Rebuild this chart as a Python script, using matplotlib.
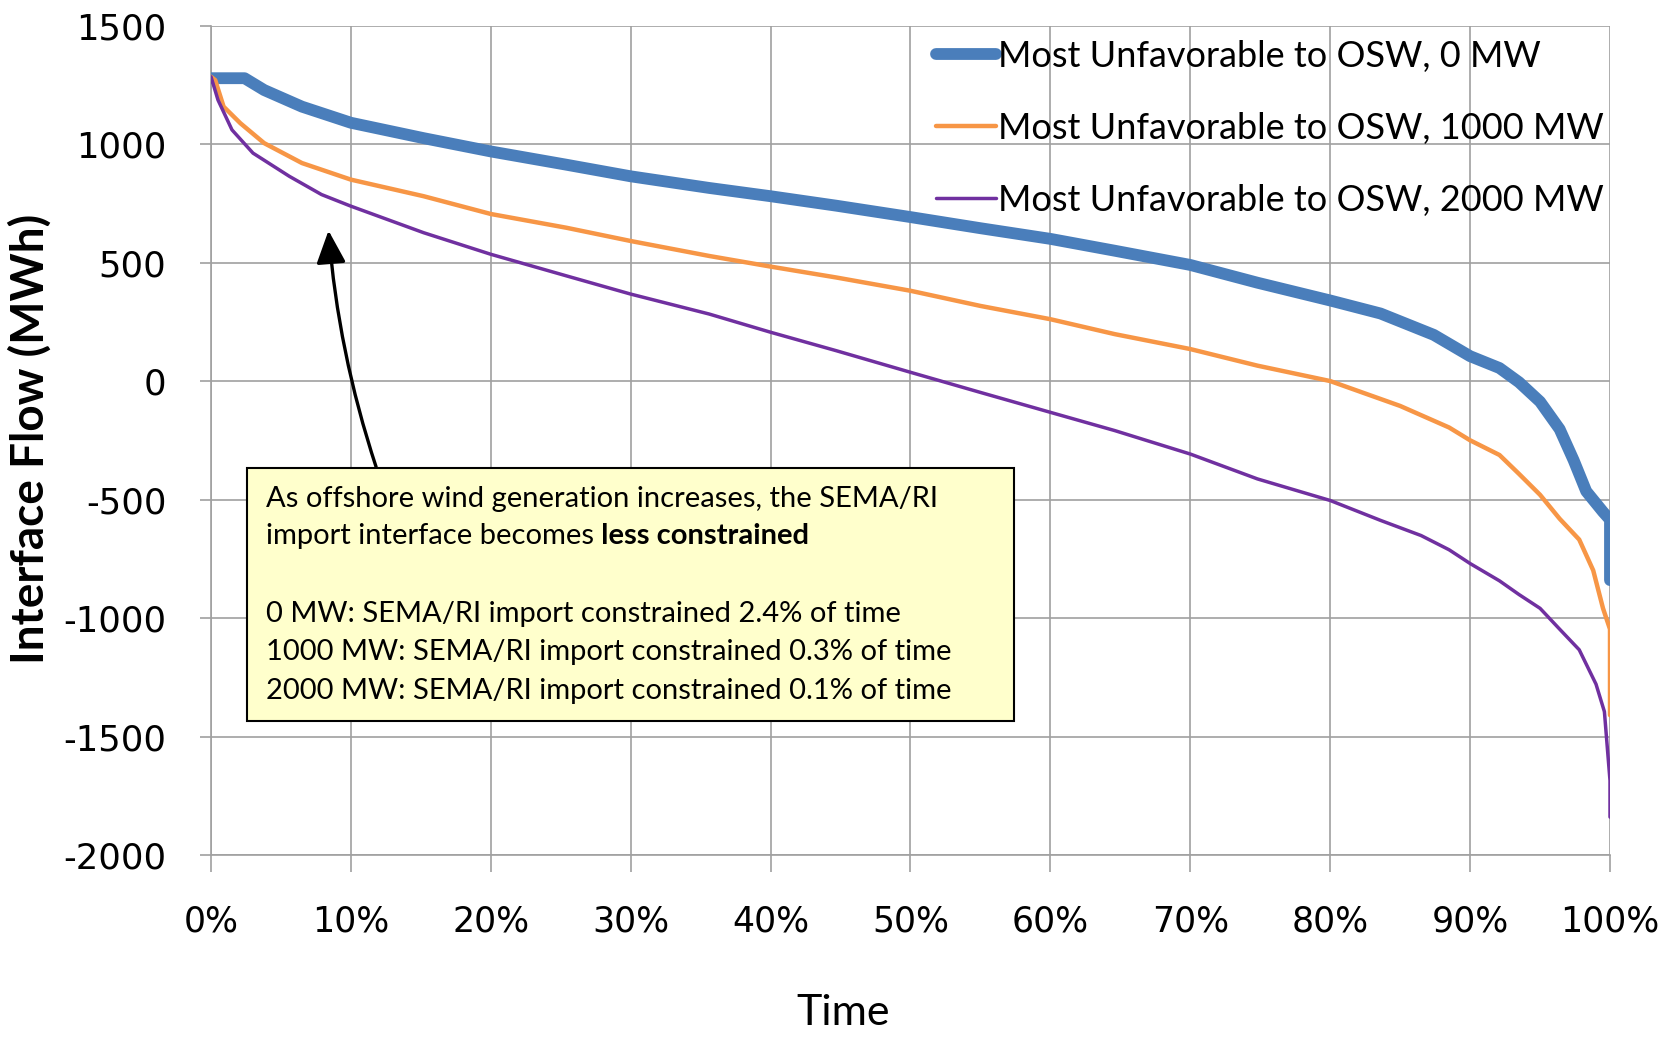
import matplotlib
matplotlib.use("Agg")
from matplotlib import pyplot as plt
from matplotlib.patches import Rectangle
from matplotlib.ticker import FuncFormatter

plt.rcParams["axes.unicode_minus"] = False

# Duration curves of SEMA/RI import interface flow (share of hours, MWh)
x_0mw = [0, 2.4, 3.8, 6.5, 10, 15.2, 20, 25.4, 30, 35.6, 40, 44.7, 50, 55, 60,
         64.6, 70, 74.8, 80, 83.6, 87.4, 90, 92.1, 93.5, 95.0, 96.4, 97.4, 98.3,
         99.5, 100, 100]
y_0mw = [1278, 1278, 1228, 1158, 1090, 1025, 969, 913, 864, 815, 780, 740, 692,
         645, 600, 550, 490, 415, 340, 285, 195, 105, 55, -5, -87, -203, -334,
         -465, -552, -585, -840]

x_1000mw = [0, 0.3, 0.9, 2.1, 3.8, 6.5, 10, 15.2, 20, 25.4, 30, 35.6, 40, 44.7,
            50, 55, 60, 64.6, 70, 74.8, 80, 85, 88.5, 90, 92.1, 93.5, 95, 96.4,
            97.8, 98.8, 99.5, 100, 100]
y_1000mw = [1284, 1270, 1158, 1088, 1004, 920, 850, 780, 705, 647, 591, 528, 483,
            437, 381, 317, 261, 198, 135, 65, 0, -105, -196, -250, -312, -392,
            -480, -581, -669, -799, -959, -1047, -1410]

x_2000mw = [0, 0.5, 1.5, 3, 5.6, 7.9, 10, 15.2, 20, 25.4, 30, 35.6, 40, 44.7, 50,
            55, 60, 64.6, 70, 74.8, 80, 83.6, 86.5, 88.5, 90, 92.1, 93.5, 95,
            96.4, 97.8, 99.0, 99.6, 99.8, 100, 100]
y_2000mw = [1284, 1186, 1060, 962, 864, 787, 738, 626, 535, 444, 367, 283, 206,
            128, 37, -48, -132, -209, -308, -413, -504, -588, -652, -712, -770,
            -843, -901, -959, -1047, -1134, -1279, -1395, -1541, -1686, -1840]

series_labels = ["Most Unfavorable to OSW, 0 MW",
                 "Most Unfavorable to OSW, 1000 MW",
                 "Most Unfavorable to OSW, 2000 MW"]

x_ticks = [0, 10, 20, 30, 40, 50, 60, 70, 80, 90, 100]
y_ticks = [1500, 1000, 500, 0, -500, -1000, -1500, -2000]

note_lines = ["As offshore wind generation increases, the SEMA/RI",
              "import interface becomes",
              "0 MW: SEMA/RI import constrained 2.4% of time",
              "1000 MW: SEMA/RI import constrained 0.3% of time",
              "2000 MW: SEMA/RI import constrained 0.1% of time"]
note_bold = "less constrained"

W, H = 1674, 1037
fig = plt.figure(figsize=(W / 100, H / 100), dpi=100)
ax = fig.add_axes([211 / W, 1 - 855 / H, (1610 - 211) / W, (855 - 25.6) / H])

ax.plot(x_0mw, y_0mw, color="#4A7EBB", lw=8.5, solid_capstyle="round",
        label=series_labels[0], zorder=3)
ax.plot(x_1000mw, y_1000mw, color="#F79646", lw=3.2, solid_capstyle="round",
        label=series_labels[1], zorder=3)
ax.plot(x_2000mw, y_2000mw, color="#7030A0", lw=2.5, solid_capstyle="round",
        label=series_labels[2], zorder=3)

ax.set_xlim(0, 100)
ax.set_ylim(-2000, 1500)
ax.set_xticks(x_ticks)
ax.set_yticks(y_ticks)
ax.xaxis.set_major_formatter(FuncFormatter(lambda v, p: "%d%%" % v))
ax.grid(True, color="#A0A0A0", lw=1.2)
ax.set_axisbelow(True)
for side in ["top", "right"]:
    ax.spines[side].set_visible(False)
for side in ["left", "bottom"]:
    ax.spines[side].set_color("#A0A0A0")
    ax.spines[side].set_linewidth(1.2)
ax.tick_params(axis="x", direction="out", length=12, width=1.2, color="#A0A0A0",
               labelsize=25, pad=24)
ax.tick_params(axis="y", direction="out", length=8, width=1.2, color="#A0A0A0",
               labelsize=25.5, pad=24)
for lbl in ax.get_xticklabels() + ax.get_yticklabels():
    lbl.set_family("DejaVu Sans")

leg = ax.legend(loc="upper left", bbox_to_anchor=(0.508, 1.0), frameon=False,
                prop={"family": "Lato", "size": 26}, handlelength=1.65,
                handletextpad=0.05, labelspacing=1.08, borderaxespad=0)

fig.text(30 / W, 1 - 439 / H, "Interface Flow (MWh)", rotation=90, ha="center",
         va="center", family="Lato", fontweight="bold", fontsize=33)
fig.text(843 / W, 1 - 1013 / H, "Time", ha="center", va="center",
         family="Lato", fontsize=31)

# yellow note box with the arrow pointing at the curves
ax.add_patch(Rectangle((247 / W, 1 - 721 / H), (1014 - 247) / W, (721 - 468) / H,
                       transform=fig.transFigure, facecolor="#FFFFCC",
                       edgecolor="black", lw=1.5, zorder=5, clip_on=False))
ys = [499, 536, 614, 652, 691]
txts = []
for line, yy in zip(note_lines, ys):
    txts.append(fig.text(266 / W, 1 - yy / H, line, ha="left", va="center",
                         family="Lato", fontsize=21, zorder=6))
renderer = fig.canvas.get_renderer()
bb = txts[1].get_window_extent(renderer)
fig.text(bb.x1 / W, 1 - ys[1] / H, " " + note_bold, ha="left", va="center",
         family="Lato", fontweight="bold", fontsize=21, zorder=6)

ax.annotate("", xy=(8.4, 635), xytext=(11.8, -362),
            arrowprops=dict(arrowstyle="-|>,head_length=1.0,head_width=0.45",
                            connectionstyle="arc3,rad=-0.06", color="black",
                            lw=2.4, mutation_scale=20, shrinkA=0, shrinkB=0),
            zorder=4)

fig.savefig("out.png", dpi=100)
